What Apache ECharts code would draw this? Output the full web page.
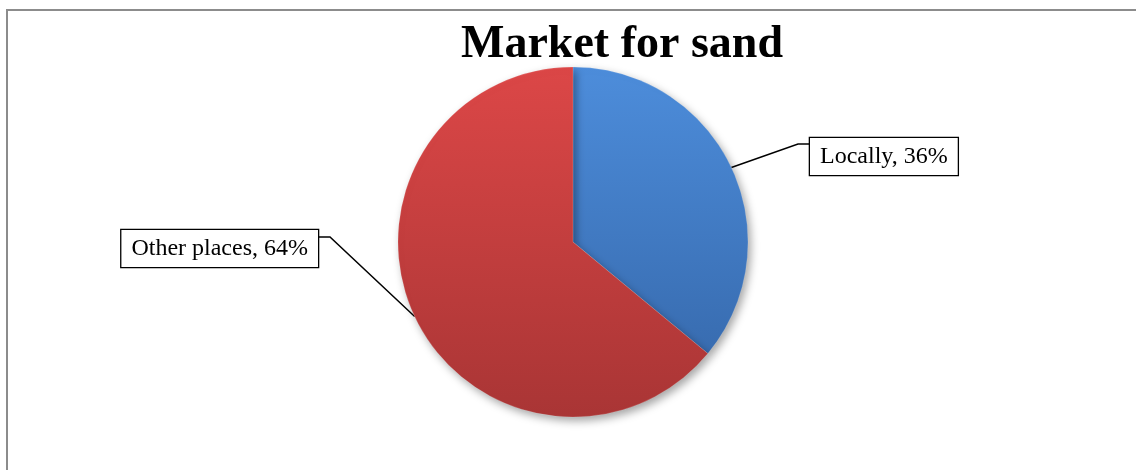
<!DOCTYPE html>
<html>
<head>
<meta charset="utf-8">
<script src="https://cdn.jsdelivr.net/npm/echarts@6/dist/echarts.min.js"></script>
<style>
  html, body { margin: 0; padding: 0; background: #fff; }
  #chart-container { width: 1136px; height: 470px; }
</style>
</head>
<body>
<div id="chart-container"></div>
<script>
var dom = document.getElementById("chart-container");
var myChart = echarts.init(dom, null, { renderer: "canvas" });

var chart_title = "Market for sand";
var categories = ["Locally", "Other places"];
var values = [36, 64];
var topColors = ["#4d8ddb", "#dc4747"];
var bottomColors = ["#386cb0", "#a93535"];

// where each label box sits, and the bend of its leader line
var labelBoxes = [
  { x: 810, y: 138, align: "left", bend: [798, 144], end: [810, 144] },
  { x: 318, y: 230, align: "right", bend: [330, 237], end: [318, 237] },
];

var data = categories.map(function (name, i) {
  return {
    name: name,
    value: values[i],
    itemStyle: {
      color: new echarts.graphic.LinearGradient(0, 0, 0, 1, [
        { offset: 0, color: topColors[i] },
        { offset: 1, color: bottomColors[i] },
      ]),
    },
  };
});

var option = {
  animation: false,
  title: {
    text: chart_title,
    left: 617,
    textAlign: "center",
    top: 17,
    textStyle: {
      fontFamily: "Liberation Serif",
      fontSize: 46,
      fontWeight: "bold",
      color: "#000",
    },
  },
  graphic: [
    {
      type: "rect",
      shape: { x: 7, y: 10, width: 1200, height: 600 },
      style: { fill: "none", stroke: "#8c8c8c", lineWidth: 2 },
      silent: true,
      z: -1,
    },
  ],
  series: [
    {
      type: "pie",
      center: [573, 242],
      radius: 175,
      startAngle: 90,
      clockwise: true,
      itemStyle: {
        shadowBlur: 8,
        shadowOffsetX: 3,
        shadowOffsetY: 4,
        shadowColor: "rgba(0,0,0,0.35)",
        borderColor: "rgba(255,255,255,0.15)",
        borderWidth: 1,
      },
      label: {
        show: true,
        position: "outside",
        formatter: "{b}, {d}%",
        fontFamily: "Liberation Serif",
        fontSize: 24,
        lineHeight: 24,
        color: "#000",
        backgroundColor: "#fff",
        borderColor: "#000",
        borderWidth: 1.3,
        padding: [7, 10, 6, 10],
      },
      labelLine: {
        show: true,
        lineStyle: { color: "#000", width: 1.5 },
      },
      labelLayout: function (params) {
        var b = labelBoxes[params.dataIndex];
        var pts = params.labelLinePoints;
        return {
          x: b.x,
          y: b.y,
          align: b.align,
          verticalAlign: "top",
          labelLinePoints: [pts[0], b.bend, b.end],
        };
      },
      emphasis: { disabled: true },
      data: data,
    },
  ],
};

myChart.setOption(option);
</script>
</body>
</html>
